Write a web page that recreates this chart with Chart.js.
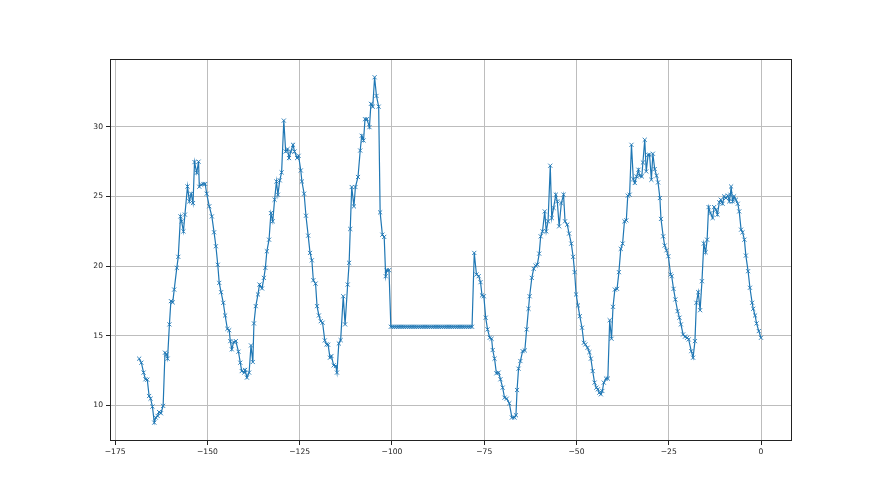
<!DOCTYPE html>
<html>
<head>
<meta charset="utf-8">
<script src="https://cdn.jsdelivr.net/npm/chart.js@4"></script>
<style>
  body { margin: 0; background: #ffffff; }
  canvas { display: block; }
</style>
</head>
<body>
<canvas id="tempChart" width="880" height="495"></canvas>
<script>
// tick labels
const xTicks = [-175, -150, -125, -100, -75, -50, -25, 0];
const yTicks = [10, 15, 20, 25, 30];

// readings, split by stretch so x and y stay lined up
const hours1 = [-168.5, -167.9, -167.3, -166.8, -166.3, -165.8, -165.4, -164.9, -164.4, -164.0,
  -163.5, -163.1, -162.6, -162.0, -161.5, -161.1, -160.8, -160.3, -159.9, -159.4,
  -159.0, -158.3, -157.9, -157.3, -157.0, -156.5, -156.1, -155.4, -154.9, -154.4,
  -153.9, -153.5, -152.9, -152.4, -152.2, -151.7, -151.1, -150.6, -150.2, -149.5,
  -148.8, -148.2, -147.7, -147.2, -146.8, -146.3, -145.7, -145.2, -144.6, -144.1,
  -143.8, -143.4, -142.9, -142.3];
const temps1 = [13.36, 13.07, 12.36, 11.88, 11.85, 10.68, 10.49, 9.92, 8.77, 9.13,
  9.25, 9.53, 9.44, 9.97, 13.79, 13.67, 13.36, 15.82, 17.49, 17.4,
  18.32, 19.88, 20.67, 23.57, 23.22, 22.5, 23.7, 25.72, 24.65, 25.2,
  24.53, 27.47, 26.7, 27.5, 25.7, 25.85, 25.9, 25.9, 25.2, 24.3,
  23.57, 22.43, 21.43, 20.1, 18.8, 18.13, 17.37, 16.46, 15.5, 15.4,
  14.62, 14.03, 14.55, 14.62];

const hours2 = [-141.6, -141.1, -140.7, -140.0, -139.8, -139.3, -138.7, -138.2, -137.7, -137.4,
  -136.9, -136.3, -135.9, -135.2, -134.7, -134.3, -133.9, -133.3, -132.8, -132.3,
  -131.8, -131.3, -130.9, -130.4, -129.9, -129.3, -128.8, -128.3, -127.9, -127.4,
  -126.8, -126.4, -125.7, -125.3, -124.7, -124.4, -123.8, -123.3, -122.7, -122.2,
  -121.7, -121.3, -120.7, -120.3, -119.8, -119.3, -118.8, -118.2, -117.7, -117.3,
  -116.8, -116.4, -115.8, -115.2, -114.9, -114.4, -113.9, -113.2, -112.7, -112.0,
  -111.6, -111.3, -110.9, -110.3, -109.9];
const temps2 = [13.86, 13.07, 12.47, 12.36, 12.55, 12.0, 12.36, 14.31, 13.12, 15.89,
  17.13, 17.97, 18.68, 18.4, 19.16, 19.88, 21.07, 21.9, 23.81, 23.22,
  24.77, 26.08, 25.13, 26.16, 26.73, 30.45, 28.23, 28.4, 27.76, 28.23,
  28.71, 28.23, 27.76, 27.92, 26.87, 26.08, 25.2, 23.62, 22.19, 20.95,
  20.42, 18.99, 18.75, 17.13, 16.46, 16.05, 15.94, 14.67, 14.38, 14.36,
  13.43, 13.55, 12.88, 12.83, 12.36, 14.45, 14.69, 17.84, 15.82, 18.68,
  20.24, 22.67, 25.68, 24.29, 25.68];

const hours3 = [-109.2, -108.6, -108.2, -107.7, -107.3, -106.8, -106.1, -105.7, -105.2, -104.7,
  -104.2, -103.6, -103.2, -102.6, -102.1, -101.7, -101.4, -100.8];
const temps3 = [26.4, 28.3, 29.36, 29.02, 30.55, 30.55, 29.98, 31.65, 31.45, 33.56,
  32.22, 31.45, 23.86, 22.26, 22.1, 19.28, 19.71, 19.71];

// stretch where the sensor reported the same value
const hoursFlat = [-100.3, -99.8, -99.3, -98.8, -98.3, -97.8, -97.3, -96.8, -96.3, -95.8,
  -95.3, -94.8, -94.3, -93.8, -93.3, -92.8, -92.3, -91.8, -91.3, -90.8,
  -90.3, -89.8, -89.3, -88.8, -88.3, -87.8, -87.3, -86.8, -86.3, -85.8,
  -85.3, -84.8, -84.3, -83.8, -83.3, -82.8, -82.3, -81.8, -81.3, -80.8,
  -80.3, -79.8, -79.3, -78.8, -78.3];
const tempsFlat = [15.65, 15.65, 15.65, 15.65, 15.65, 15.65, 15.65, 15.65, 15.65, 15.65,
  15.65, 15.65, 15.65, 15.65, 15.65, 15.65, 15.65, 15.65, 15.65, 15.65,
  15.65, 15.65, 15.65, 15.65, 15.65, 15.65, 15.65, 15.65, 15.65, 15.65,
  15.65, 15.65, 15.65, 15.65, 15.65, 15.65, 15.65, 15.65, 15.65, 15.65,
  15.65, 15.65, 15.65, 15.65, 15.65];

const hours4 = [-77.7, -77.1, -76.5, -76.0, -75.6, -75.1, -74.6, -74.1, -73.5, -73.0,
  -72.7, -72.2, -71.7, -71.1, -70.6, -70.0, -69.5, -68.9, -68.2, -67.5,
  -66.8, -66.4, -66.1, -65.7, -65.2, -64.6, -64.0, -63.5, -63.0, -62.7,
  -62.1, -61.6, -61.1, -60.6, -60.1, -59.7, -59.2, -58.6, -58.2, -57.7,
  -57.1, -56.7, -56.2, -55.6, -55.2, -54.7, -54.1, -53.5, -53.1, -52.5,
  -52.0, -51.4, -50.9, -50.5, -50.1, -49.6, -49.1, -48.5, -48.0, -47.6,
  -47.0, -46.5, -46.1, -45.6, -45.1, -44.6, -44.2];
const temps4 = [20.95, 19.4, 19.28, 18.85, 17.9, 17.84, 16.3, 15.46, 14.86, 14.79,
  13.98, 13.36, 12.31, 12.36, 11.88, 11.28, 10.56, 10.49, 10.16, 9.13,
  9.13, 9.3, 11.11, 12.64, 13.19, 13.9, 13.95, 15.46, 16.94, 17.84,
  19.16, 19.81, 20.04, 20.11, 20.9, 22.14, 22.5, 23.93, 22.5, 23.22,
  27.21, 23.46, 24.18, 25.13, 24.65, 22.86, 24.53, 25.13, 23.22, 22.98,
  22.34, 21.62, 20.67, 19.57, 17.97, 17.18, 16.41, 15.58, 14.5, 14.38,
  14.14, 13.83, 13.36, 12.47, 11.64, 11.28, 11.16];

const hours5 = [-43.8, -43.4, -43.0, -42.6, -42.0, -41.5, -41.0, -40.5, -40.1, -39.6,
  -39.0, -38.5, -38.0, -37.5, -37.0, -36.5, -36.1, -35.6, -35.1, -34.6,
  -34.2, -33.7, -33.2, -32.9, -32.3, -32.0, -31.5, -31.1, -30.6, -30.2,
  -29.7, -29.3, -28.8, -28.3, -27.9, -27.4, -27.1, -26.5, -26.1, -25.6,
  -25.1, -24.5, -24.2, -23.7, -23.2, -22.6, -22.1, -21.7, -21.1, -20.6,
  -20.0, -19.6];
const temps5 = [10.92, 10.8, 11.04, 11.64, 11.93, 11.93, 16.12, 14.79, 17.08, 18.32,
  18.37, 19.57, 21.24, 21.62, 23.22, 23.29, 25.06, 25.13, 28.71, 26.25,
  25.97, 26.44, 26.92, 26.49, 26.44, 27.44, 29.07, 26.8, 27.99, 27.99,
  26.2, 28.07, 26.97, 26.49, 26.01, 24.89, 23.39, 22.14, 21.48, 21.14,
  20.71, 19.4, 19.28, 18.37, 17.61, 16.77, 16.3, 15.82, 15.1, 14.94,
  14.86, 14.74];

const hours6 = [-18.9, -18.4, -17.9, -17.5, -17.0, -16.5, -16.0, -15.5, -15.0, -14.6,
  -14.2, -13.7, -13.1, -12.7, -12.2, -11.8, -11.3, -10.9, -10.4, -10.0,
  -9.5, -9.0, -8.6, -8.3, -8.1, -7.7, -7.3, -6.8, -6.3, -5.9,
  -5.4, -5.0, -4.5, -4.1, -3.5, -3.0, -2.4, -2.1, -1.6, -1.2,
  -0.6, 0];
const temps6 = [13.9, 13.43, 14.62, 17.37, 18.13, 16.84, 18.92, 21.62, 21.0, 21.9,
  24.24, 23.81, 23.46, 24.24, 24.05, 23.7, 24.58, 24.77, 24.48, 25.01,
  24.89, 25.06, 24.65, 25.13, 25.72, 24.65, 25.01, 24.77, 24.48, 23.93,
  22.62, 22.43, 21.9, 20.76, 19.64, 18.45, 17.37, 16.94, 16.46, 15.89,
  15.34, 14.86];

const hours = [].concat(hours1, hours2, hours3, hoursFlat, hours4, hours5, hours6);
const temps = [].concat(temps1, temps2, temps3, tempsFlat, temps4, temps5, temps6);

const points = hours.map((h, i) => ({ x: h, y: temps[i] }));

const lineColor = '#1f77b4';
const gridColor = '#bdbdbd';
const fontSpec = { family: 'DejaVu Sans', size: 7.6 };

// matplotlib style box around the plot area
const frameBox = {
    id: 'frameBox',
    afterDraw(chart) {
        const a = chart.chartArea;
        const ctx = chart.ctx;
        ctx.save();
        ctx.strokeStyle = '#222222';
        ctx.lineWidth = 1;
        ctx.strokeRect(a.left + 0.5, a.top + 0.5, a.right - a.left - 1, a.bottom - a.top - 1);
        ctx.restore();
    }
};

function minusLabel(v) {
    return v < 0 ? '\u2212' + Math.abs(v) : String(v);
}

const ctx = document.getElementById('tempChart').getContext('2d');
new Chart(ctx, {
    type: 'line',
    data: {
        datasets: [{
            data: points,
            borderColor: lineColor,
            borderWidth: 1.2,
            pointStyle: 'crossRot',
            pointRadius: 2.9,
            pointBorderWidth: 0.9,
            pointBorderColor: lineColor,
            pointBackgroundColor: lineColor,
            tension: 0,
            fill: false
        }]
    },
    options: {
        responsive: false,
        animation: false,
        layout: { padding: { left: 0, right: 88, top: 59, bottom: 0 } },
        plugins: {
            legend: { display: false },
            tooltip: { enabled: false }
        },
        scales: {
            x: {
                type: 'linear',
                min: -176.4,
                max: 8.4,
                afterBuildTicks: scale => { scale.ticks = xTicks.map(v => ({ value: v })); },
                afterFit: scale => { scale.height = 54; },
                border: { display: false },
                grid: { color: gridColor, lineWidth: 1, tickColor: '#222222', tickLength: 4 },
                ticks: {
                    color: '#222222',
                    font: fontSpec,
                    padding: 2,
                    maxRotation: 0,
                    callback: v => minusLabel(v)
                }
            },
            y: {
                type: 'linear',
                min: 7.45,
                max: 34.87,
                afterBuildTicks: scale => { scale.ticks = yTicks.map(v => ({ value: v })); },
                afterFit: scale => { scale.width = 110; },
                border: { display: false },
                grid: { color: gridColor, lineWidth: 1, tickColor: '#222222', tickLength: 4 },
                ticks: {
                    color: '#222222',
                    font: fontSpec,
                    padding: 3,
                    callback: v => minusLabel(v)
                }
            }
        }
    },
    plugins: [frameBox]
});
</script>
</body>
</html>
